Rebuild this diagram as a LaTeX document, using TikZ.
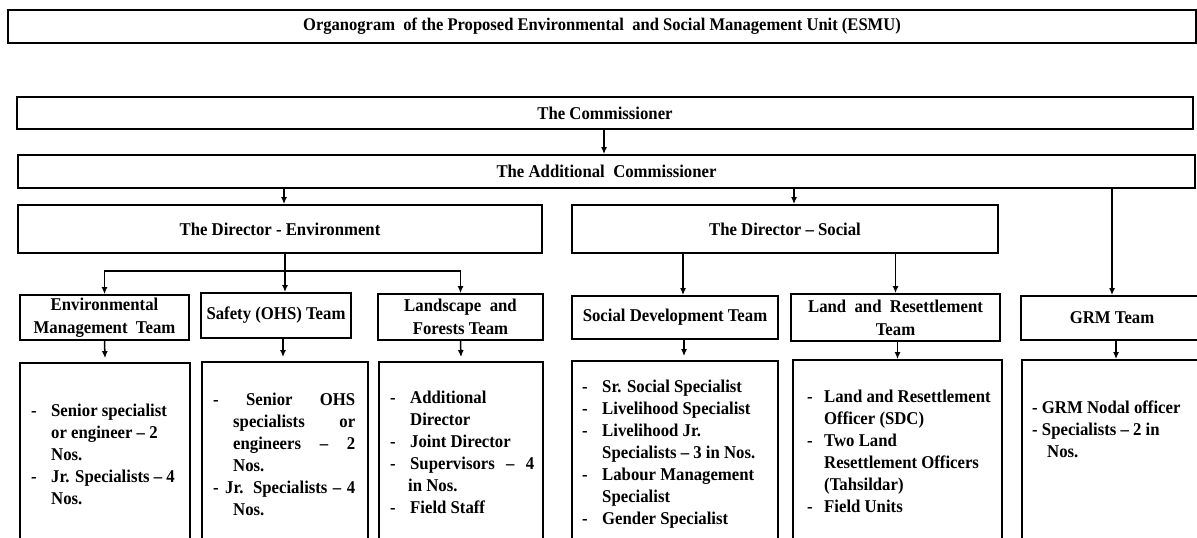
\documentclass[tikz,border=0pt]{standalone}
\usepackage{fontspec}
\setmainfont{Liberation Serif}[FakeStretch=0.93]
\usetikzlibrary{arrows.meta}
\newcommand\mydash[1][20pt]{\makebox[#1][l]{-}}
\tikzset{
 box/.style={draw, line width=1.8pt, inner sep=0pt, align=center, font=\bfseries\fontsize{18}{23}\selectfont},
 cbox/.style={draw, line width=1.8pt, inner sep=0pt},
 arr/.style={line width=1.5pt, -{Latex[length=7pt,width=6pt]}},
 ln/.style={line width=1.5pt},
 list/.style={anchor=north west, inner sep=0pt, align=left, font=\bfseries\fontsize{18}{22}\selectfont},
}
\begin{document}
\begin{tikzpicture}[x=1pt,y=-1pt]
\useasboundingbox (0,0) rectangle (1197,538);
\clip (0,0) rectangle (1197,538);
\fill[white] (0,0) rectangle (1197,538);
% title
\node[draw, line width=1.2pt, minimum width=1188pt, minimum height=33pt, inner sep=0pt,
      font=\bfseries\fontsize{17.8}{20}\selectfont] (title) at (602,26.5)
  {Organogram\ \ of the Proposed Environmental\ \ and Social Management Unit (ESMU)};
% top levels
\node[box, minimum width=1176pt, minimum height=32pt] (comm) at (605,113) {The Commissioner};
\node[box, minimum width=1177pt, minimum height=33pt] (addl) at (606.5,171.5) {The Additional\ \ Commissioner};
\node[box, minimum width=524pt, minimum height=48pt] (dirE) at (280,229) {The Director - Environment};
\node[box, minimum width=426pt, minimum height=48pt] (dirS) at (785,229) {The Director -- Social};
% teams
\node[box, minimum width=169pt, minimum height=45pt] (envT) at (104.5,317.5) {\raisebox{-2pt}{Environmental}\\\raisebox{-2pt}{Management\ \ Team}};
\node[box, minimum width=150pt, minimum height=45pt] (ohsT) at (276,315.5) {Safety (OHS) Team};
\node[box, minimum width=165pt, minimum height=46pt] (lfT) at (460.5,317) {\raisebox{-2pt}{Landscape\ \ and}\\\raisebox{-2pt}{Forests Team}};
\node[box, minimum width=206pt, minimum height=43pt] (sdT) at (675,317.5) {Social Development Team};
\node[box, minimum width=209pt, minimum height=47pt] (lrT) at (895.5,317.5) {\raisebox{-2pt}{Land\ \ and\ \ Resettlement}\\\raisebox{-2pt}{Team}};
\node[box, minimum width=182pt, minimum height=44pt] (grmT) at (1112,318) {GRM Team};
% content boxes
\node[cbox, minimum width=170pt, minimum height=197pt] (envC) at (105,461.5) {};
\node[cbox, minimum width=166pt, minimum height=198pt] (ohsC) at (285,461) {};
\node[cbox, minimum width=164pt, minimum height=198pt] (lfC) at (461,461) {};
\node[cbox, minimum width=206pt, minimum height=199pt] (sdC) at (675,460.5) {};
\node[cbox, minimum width=209pt, minimum height=200pt] (lrC) at (897.5,460) {};
\node[cbox, minimum width=188pt, minimum height=200pt] (grmC) at (1116,460) {};
% content text
\node[list] (envL) at (31,400.6) {\strut\mydash Senior specialist\\
 \hspace*{20pt}or engineer -- 2\\ \hspace*{20pt}Nos.\\ \mydash Jr. Specialists -- 4\\ \hspace*{20pt}Nos.};
\node[list] (ohsL) at (213,389.6) {\strut\makebox[142pt][s]{- Senior OHS}\\
 \hspace*{20pt}\makebox[122pt][s]{specialists or}\\
 \hspace*{20pt}\makebox[122pt][s]{engineers -- 2}\\
 \hspace*{20pt}Nos.\\
 \mydash[12pt]\makebox[130pt][s]{Jr. Specialists -- 4}\\
 \hspace*{20pt}Nos.};
\node[list] (lfL) at (390,387.6) {\strut\mydash Additional\\ \hspace*{20pt}Director\\ \mydash Joint Director\\
 \mydash\makebox[124pt][s]{Supervisors -- 4}\\ \hspace*{18pt}in Nos.\\ \mydash Field Staff};
\node[list] (sdL) at (582,376.6) {\strut\mydash Sr. Social Specialist\\ \mydash Livelihood Specialist\\
 \mydash Livelihood Jr.\\ \hspace*{20pt}Specialists -- 3 in Nos.\\ \mydash Labour Management\\
 \hspace*{20pt}Specialist\\ \mydash Gender Specialist};
\node[list] (lrL) at (807,386.6) {\strut\mydash[17pt]Land and Resettlement\\ \hspace*{17pt}Officer (SDC)\\
 \mydash[17pt]Two Land\\ \hspace*{17pt}Resettlement Officers\\ \hspace*{17pt}(Tahsildar)\\ \mydash[17pt]Field Units};
\node[list] (grmL) at (1032,397.6) {\strut- GRM Nodal officer\\ - Specialists -- 2 in\\ \hspace*{15pt}Nos.};
% arrow x positions
\coordinate (k604) at (604,0);
\coordinate (k284) at (284,0);
\coordinate (k794) at (794,0);
\coordinate (k285) at (285,0);
\coordinate (k683) at (683,0);
\coordinate (k283) at (283,0);
\coordinate (k684) at (684,0);
\coordinate (bus) at (285,271);
% connectors
\draw[arr] (comm.south -| k604) -- (addl.north -| k604);
\draw[arr] (addl.south -| k284) -- (dirE.north -| k284);
\draw[arr] (addl.south -| k794) -- (dirS.north -| k794);
\draw[arr] (addl.south -| grmT.north) -- (grmT.north);
\draw[ln] (dirE.south -| k285) -- (bus);
\draw[arr] (bus) -- (ohsT.north -| k285);
\draw[arr] (bus) -| (envT.north);
\draw[arr] (bus) -| (lfT.north);
\draw[arr] (dirS.south -| k683) -- (sdT.north -| k683);
\draw[arr] (dirS.south -| lrT.north) -- (lrT.north);
\draw[arr] (envT.south) -- ([yshift=4pt]envC.north);
\draw[arr] (ohsT.south -| k283) -- ([yshift=4pt]ohsC.north -| k283);
\draw[arr] (lfT.south) -- ([yshift=4pt]lfC.north);
\draw[arr] (sdT.south -| k684) -- ([yshift=4pt]sdC.north -| k684);
\draw[arr] (lrT.south -| lrC.north) -- (lrC.north);
\draw[arr] (grmT.south -| grmC.north) -- (grmC.north);
\end{tikzpicture}
\end{document}
